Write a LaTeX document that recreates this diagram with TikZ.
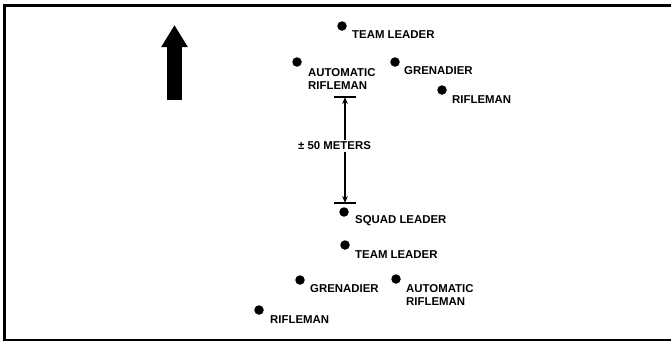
\documentclass[tikz,border=0pt]{standalone}
\usepackage{fontspec}
\setmainfont{Liberation Sans}
\usepackage{tikz}
\usetikzlibrary{arrows.meta}

\begin{document}
\begin{tikzpicture}[
  x=1pt, y=-1pt,
  >={Stealth[length=7pt, width=5.5pt]},
  member/.style={circle, fill=black, inner sep=0pt, minimum size=9.5pt},
  role/.style={anchor=west, inner sep=0pt, align=left,
    font=\bfseries\fontsize{11.4}{13.5}\selectfont},
  frame/.style={line width=2.6pt},
  rangebar/.style={line width=1.4pt},
  northarrow/.style={line width=15pt, -{Triangle[width=25pt, length=22pt]}}
]
  \useasboundingbox (0,0) rectangle (671,341);

  % frame (open on the right)
  \draw[frame] (675,5.5) -- (4.5,5.5) -- (4.5,340) -- (675,340);

  % direction of movement
  \coordinate (northtail) at (174.5,100);
  \coordinate (northhead) at (174.5,25);
  \draw[northarrow] (northtail) -- (northhead);

  % leading fire team
  \node[member] (tl1) at (342,26) {};
  \node[role] (tl1lab) at (352,35) {TEAM LEADER};
  \node[member] (ar1) at (297,62) {};
  \node[role] (ar1lab) at (308,79) {AUTOMATIC\\RIFLEMAN};
  \node[member] (gr1) at (395,62) {};
  \node[role] (gr1lab) at (404,71) {GRENADIER};
  \node[member] (rf1) at (442,90) {};
  \node[role] (rf1lab) at (452,100) {RIFLEMAN};

  % distance between teams
  \coordinate (rangetop) at (345,97);
  \coordinate (rangebot) at (345,203);
  \draw[rangebar] ([xshift=-11pt]rangetop) -- ([xshift=11pt]rangetop);
  \draw[rangebar] ([xshift=-11pt]rangebot) -- ([xshift=11pt]rangebot);
  \draw[<->, line width=1.2pt] (rangetop) -- (rangebot);
  \node[role, anchor=center, fill=white, inner sep=1.5pt] (range) at (334.5,146) {± 50 METERS};

  \node[member] (sl) at (344,212) {};
  \node[role] (sllab) at (355,221) {SQUAD LEADER};

  % trailing fire team
  \node[member] (tl2) at (345,245) {};
  \node[role] (tl2lab) at (355,255) {TEAM LEADER};
  \node[member] (gr2) at (300,280) {};
  \node[role] (gr2lab) at (310,289) {GRENADIER};
  \node[member] (ar2) at (396,279) {};
  \node[role] (ar2lab) at (406,295) {AUTOMATIC\\RIFLEMAN};
  \node[member] (rf2) at (259,310) {};
  \node[role] (rf2lab) at (270,320) {RIFLEMAN};
\end{tikzpicture}
\end{document}
